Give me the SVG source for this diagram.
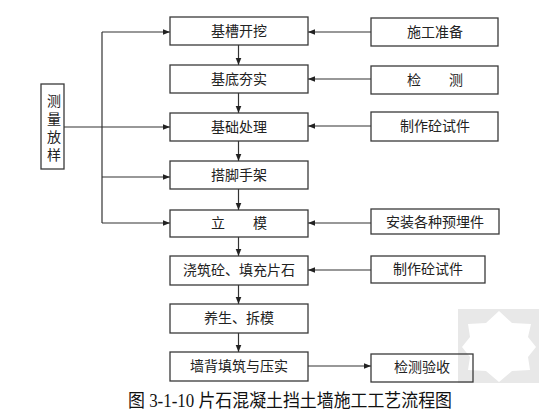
<svg xmlns="http://www.w3.org/2000/svg" width="560" height="420" viewBox="0 0 560 420">
<style>
.box{fill:#fff;stroke:#3a3a3a;stroke-width:1.3}
.nofill{fill:none;stroke:#3a3a3a;stroke-width:1.3}
.t{font-family:"Liberation Sans","Noto Sans CJK SC",sans-serif;font-size:14px;fill:#222;text-anchor:middle;dominant-baseline:central}
.ln{stroke:#333;stroke-width:1.2;fill:none}
.cap{font-family:"Liberation Serif","Noto Sans CJK SC",serif;font-size:18px;fill:#111}
</style>
<defs>
<marker id="ah" viewBox="0 0 10 10" refX="10" refY="5" markerWidth="7" markerHeight="7" orient="auto" markerUnits="userSpaceOnUse">
<path d="M0,1 L10,5 L0,9 Z" fill="#222"/>
</marker>
</defs>
<rect width="560" height="420" fill="#fff"/>
<g id="watermark">
<rect x="458" y="309" width="81" height="74" fill="#e8e8e8"/>
<polygon points="499,311 512,323 531,324 528,337 536,347 528,357 530,370 512,371 499,382 486,371 468,370 470,357 462,347 470,337 468,324 486,323" fill="#fff"/>
</g>
<g id="connectors">
<line class="ln" x1="102" y1="32" x2="102" y2="223"/>
<line class="ln" x1="102" y1="32" x2="170" y2="32" marker-end="url(#ah)"/>
<line class="ln" x1="64" y1="127" x2="170" y2="127" marker-end="url(#ah)"/>
<line class="ln" x1="102" y1="177" x2="170" y2="177" marker-end="url(#ah)"/>
<line class="ln" x1="102" y1="223" x2="170" y2="223" marker-end="url(#ah)"/>
<line class="ln" x1="238.5" y1="45" x2="238.5" y2="65" marker-end="url(#ah)"/>
<line class="ln" x1="238.5" y1="93" x2="238.5" y2="113" marker-end="url(#ah)"/>
<line class="ln" x1="238.5" y1="141" x2="238.5" y2="161" marker-end="url(#ah)"/>
<line class="ln" x1="238.5" y1="189" x2="238.5" y2="210" marker-end="url(#ah)"/>
<line class="ln" x1="238.5" y1="237" x2="238.5" y2="256" marker-end="url(#ah)"/>
<line class="ln" x1="238.5" y1="285" x2="238.5" y2="304" marker-end="url(#ah)"/>
<line class="ln" x1="238.5" y1="333" x2="238.5" y2="352" marker-end="url(#ah)"/>
<line class="ln" x1="371" y1="32" x2="308" y2="32" marker-end="url(#ah)"/>
<line class="ln" x1="371" y1="79" x2="308" y2="79" marker-end="url(#ah)"/>
<line class="ln" x1="371" y1="126" x2="308" y2="126" marker-end="url(#ah)"/>
<line class="ln" x1="371" y1="223" x2="308" y2="223" marker-end="url(#ah)"/>
<line class="ln" x1="371" y1="270" x2="308" y2="270" marker-end="url(#ah)"/>
<line class="ln" x1="308" y1="366" x2="371" y2="366" marker-end="url(#ah)"/>
</g>
<g id="n-celiang"><rect class="box" x="41" y="84" width="23" height="85"/>
<text class="t" x="54" y="101">测</text><text class="t" x="54" y="119">量</text><text class="t" x="54" y="137">放</text><text class="t" x="54" y="155">样</text></g>
<g id="n1"><rect class="box" x="170" y="17" width="138" height="28"/><text class="t" x="239" y="31">基槽开挖</text></g>
<g id="n2"><rect class="box" x="170" y="65" width="138" height="28"/><text class="t" x="239" y="79">基底夯实</text></g>
<g id="n3"><rect class="box" x="170" y="113" width="138" height="28"/><text class="t" x="239" y="127">基础处理</text></g>
<g id="n4"><rect class="box" x="170" y="161" width="138" height="28"/><text class="t" x="239" y="175">搭脚手架</text></g>
<g id="n5"><rect class="box" x="170" y="210" width="138" height="27"/><text class="t" x="239" y="223" xml:space="preserve">立　　模</text></g>
<g id="n6"><rect class="box" x="170" y="256" width="138" height="29"/><text class="t" x="239" y="270">浇筑砼、填充片石</text></g>
<g id="n7"><rect class="box" x="170" y="304" width="138" height="29"/><text class="t" x="239" y="318">养生、拆模</text></g>
<g id="n8"><rect class="box" x="170" y="352" width="138" height="29"/><text class="t" x="239" y="366">墙背填筑与压实</text></g>
<g id="r1"><rect class="box" x="371" y="18" width="127" height="28"/><text class="t" x="435" y="32">施工准备</text></g>
<g id="r2"><rect class="box" x="371" y="66" width="127" height="28"/><text class="t" x="435" y="80" fill="#222" xml:space="preserve">检　　测</text></g>
<g id="r3"><rect class="box" x="371" y="112" width="127" height="29"/><text class="t" x="435" y="126">制作砼试件</text></g>
<g id="r4"><rect class="box" x="371" y="209" width="128" height="25"/><text class="t" x="435" y="222">安装各种预埋件</text></g>
<g id="r5"><rect class="box" x="371" y="256" width="114" height="27"/><text class="t" x="428" y="269">制作砼试件</text></g>
<g id="r6"><rect class="nofill" x="371" y="354" width="102" height="28"/><text class="t" x="422" y="367">检测验收</text></g>
<text class="cap" x="128" y="407" textLength="324" lengthAdjust="spacingAndGlyphs" xml:space="preserve">图 3-1-10 片石混凝土挡土墙施工工艺流程图</text>
</svg>
